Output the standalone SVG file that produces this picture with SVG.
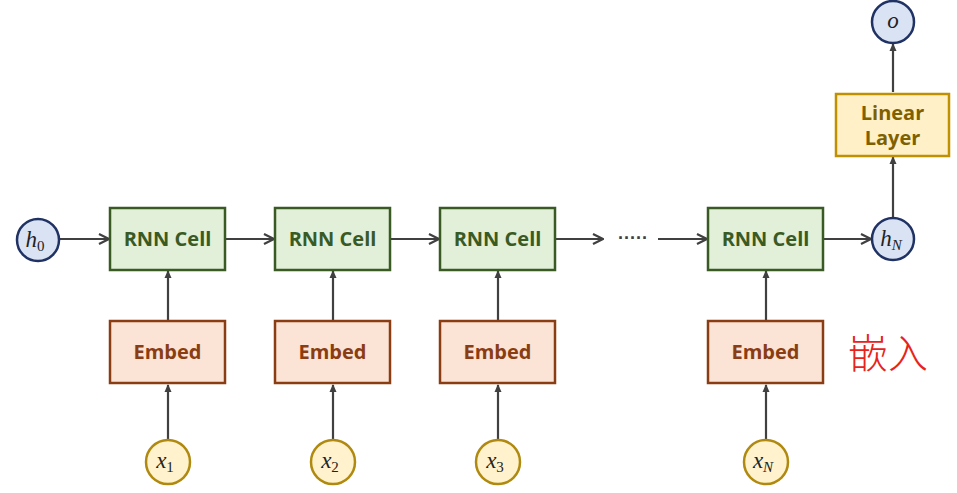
<svg xmlns="http://www.w3.org/2000/svg" width="957" height="493" viewBox="0 0 957 493">
<style>
.cell{fill:#e2efd9;stroke:#3a5a24;stroke-width:2.5}
.emb{fill:#fbe3d5;stroke:#8a3d12;stroke-width:2.5}
.lin{fill:#fff0c8;stroke:#bf9000;stroke-width:2.5}
.hc{fill:#dae3f3;stroke:#1f3263;stroke-width:2.5}
.xc{fill:#fff2cc;stroke:#b08a10;stroke-width:2.5}
.lbl{font-family:"Open Sans","Liberation Sans",sans-serif;font-weight:bold;font-size:20px;text-anchor:middle}
.tc{fill:#3a5a24}.te{fill:#8a3d12}.tl{fill:#7f6000}
.m{font-family:"Liberation Serif","DejaVu Serif",serif;font-style:italic;font-size:23px;fill:#222;text-anchor:middle}
.sub{font-size:15px;font-style:normal}
.subi{font-size:15px;font-style:italic}
.c{stroke:#404040;stroke-width:2.2;fill:none}
</style>
<defs>
<marker id="ah" viewBox="0 0 12 12" refX="11" refY="6" markerWidth="12" markerHeight="12" markerUnits="userSpaceOnUse" orient="auto">
<path d="M1,1 L11,6 L1,11" fill="none" stroke="#404040" stroke-width="2.2"/>
</marker>
<marker id="av" viewBox="0 0 8 8" refX="7" refY="4" markerWidth="8" markerHeight="8" markerUnits="userSpaceOnUse" orient="auto">
<path d="M0,0.5 L8,4 L0,7.5 Z" fill="#404040"/>
</marker>
</defs>
<g id="connectors">
<line class="c" x1="60" y1="239" x2="109" y2="239" marker-end="url(#ah)"/>
<line class="c" x1="225" y1="239" x2="274" y2="239" marker-end="url(#ah)"/>
<line class="c" x1="390" y1="239" x2="439" y2="239" marker-end="url(#ah)"/>
<line class="c" x1="555" y1="239" x2="603" y2="239" marker-end="url(#ah)"/>
<line class="c" x1="658" y1="239" x2="707" y2="239" marker-end="url(#ah)"/>
<line class="c" x1="823" y1="239" x2="871" y2="239" marker-end="url(#ah)"/>
<line class="c" x1="168" y1="320" x2="168" y2="271" marker-end="url(#av)"/>
<line class="c" x1="333" y1="320" x2="333" y2="271" marker-end="url(#av)"/>
<line class="c" x1="498" y1="320" x2="498" y2="271" marker-end="url(#av)"/>
<line class="c" x1="766" y1="320" x2="766" y2="271" marker-end="url(#av)"/>
<line class="c" x1="168" y1="440" x2="168" y2="385" marker-end="url(#av)"/>
<line class="c" x1="333" y1="440" x2="333" y2="385" marker-end="url(#av)"/>
<line class="c" x1="498" y1="440" x2="498" y2="385" marker-end="url(#av)"/>
<line class="c" x1="766" y1="440" x2="766" y2="385" marker-end="url(#av)"/>
<line class="c" x1="893" y1="217" x2="893" y2="157" marker-end="url(#av)"/>
<line class="c" x1="893" y1="92" x2="893" y2="44" marker-end="url(#av)"/>
<text x="633" y="244" font-family="Liberation Sans,sans-serif" font-size="18" font-weight="bold" fill="#404040" text-anchor="middle">·····</text>
</g>
<g id="h0"><circle class="hc" cx="38" cy="240" r="21"/><text class="m" x="35" y="247">h<tspan class="sub" dy="4">0</tspan></text></g>
<g id="cell1"><rect class="cell" x="110" y="208" width="115" height="62"/><text class="lbl tc" x="167.5" y="246">RNN Cell</text></g>
<g id="cell2"><rect class="cell" x="275" y="208" width="115" height="62"/><text class="lbl tc" x="332.5" y="246">RNN Cell</text></g>
<g id="cell3"><rect class="cell" x="440" y="208" width="115" height="62"/><text class="lbl tc" x="497.5" y="246">RNN Cell</text></g>
<g id="cellN"><rect class="cell" x="708" y="208" width="115" height="62"/><text class="lbl tc" x="765.5" y="246">RNN Cell</text></g>
<g id="emb1"><rect class="emb" x="110" y="321" width="115" height="62"/><text class="lbl te" x="167.5" y="359">Embed</text></g>
<g id="emb2"><rect class="emb" x="275" y="321" width="115" height="62"/><text class="lbl te" x="332.5" y="359">Embed</text></g>
<g id="emb3"><rect class="emb" x="440" y="321" width="115" height="62"/><text class="lbl te" x="497.5" y="359">Embed</text></g>
<g id="embN"><rect class="emb" x="708" y="321" width="115" height="62"/><text class="lbl te" x="765.5" y="359">Embed</text></g>
<g id="x1"><circle class="xc" cx="168" cy="462" r="22"/><text class="m" x="165" y="468">x<tspan class="sub" dy="4">1</tspan></text></g>
<g id="x2"><circle class="xc" cx="333" cy="462" r="22"/><text class="m" x="330" y="468">x<tspan class="sub" dy="4">2</tspan></text></g>
<g id="x3"><circle class="xc" cx="498" cy="462" r="22"/><text class="m" x="495" y="468">x<tspan class="sub" dy="4">3</tspan></text></g>
<g id="xN"><circle class="xc" cx="766" cy="462" r="22"/><text class="m" x="763" y="468">x<tspan class="subi" dy="4">N</tspan></text></g>
<g id="hN"><circle class="hc" cx="893" cy="239" r="21"/><text class="m" x="891" y="246">h<tspan class="subi" dy="4">N</tspan></text></g>
<g id="linear"><rect class="lin" x="836" y="94" width="113" height="62"/><text class="lbl tl" x="892.5" y="120">Linear</text><text class="lbl tl" x="892.5" y="145">Layer</text></g>
<g id="o"><circle class="hc" cx="893" cy="22" r="21"/><text class="m" x="893" y="28">o</text></g>
<text x="888" y="368" font-family="Noto Sans CJK SC,sans-serif" font-size="40" font-weight="300" fill="#e8231a" text-anchor="middle">嵌入</text>
</svg>
